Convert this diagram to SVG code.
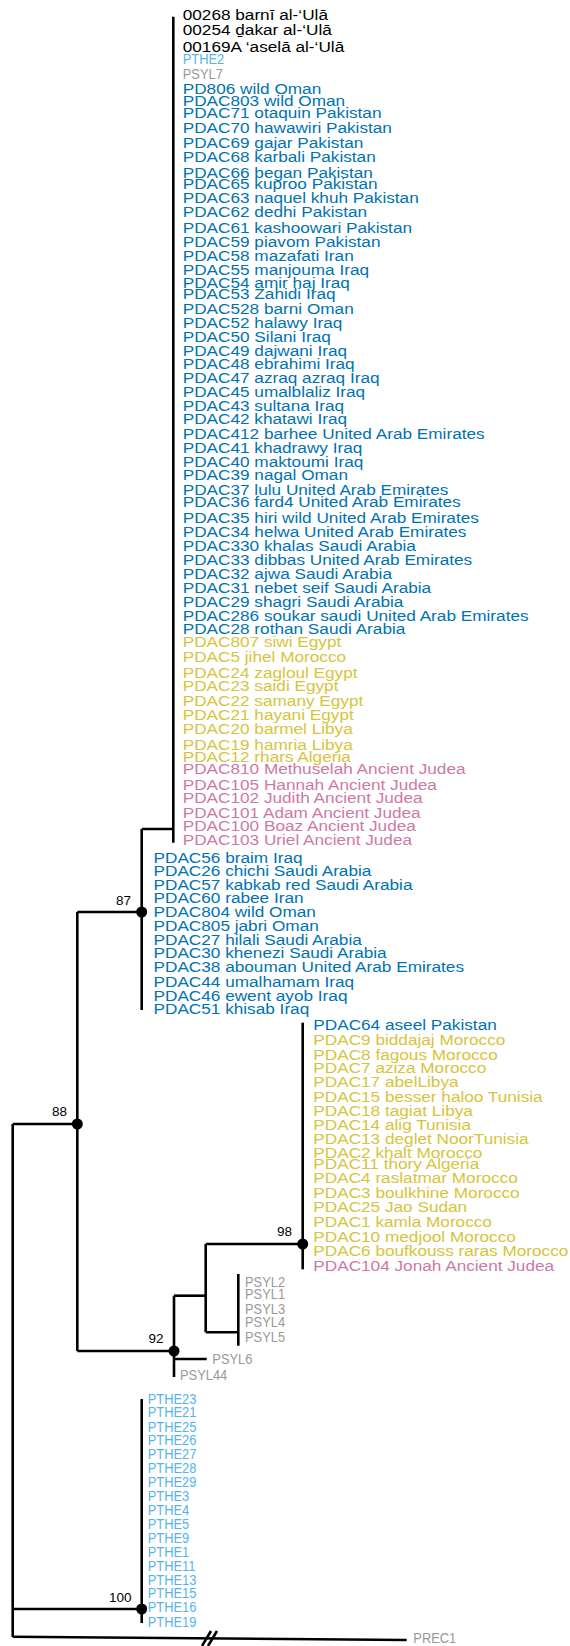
<svg xmlns="http://www.w3.org/2000/svg" width="570" height="1646" viewBox="0 0 570 1646">
<style>
text{font-family:"Liberation Sans",Arial,Helvetica,sans-serif}
.L text{font-size:15.5px}
.S text{font-size:15px}
.k{fill:#000}.b{fill:#0072b2}.y{fill:#d6c43c}.p{fill:#cc79a7}.g{fill:#999999}.c{fill:#56b4e9}
.nl{font-size:13.5px;fill:#000;text-anchor:end}
.edges path{fill:none;stroke:#000;stroke-width:2.6}
.dot{fill:#000}
</style>
<rect width="570" height="1646" fill="#fff"/>
<g class="edges" id="connectors">
<path d="M173.3,16.7V842.7"/>
<path d="M141.7,829H173.3"/>
<path d="M141.7,829V1010"/>
<path d="M77.3,912H141.7"/>
<path d="M77.3,912V1351"/>
<path d="M12.7,1124H77.3"/>
<path d="M12.7,1124V1637"/>
<path d="M77.3,1351H174"/>
<path d="M174,1295.7V1377"/>
<path d="M174,1359H206.7"/>
<path d="M174,1295.7H205.7"/>
<path d="M205.7,1244V1332.3"/>
<path d="M205.7,1244H302.7"/>
<path d="M205.7,1332.3H238.3"/>
<path d="M238.3,1274V1345.7"/>
<path d="M302.7,1022.7V1269.3"/>
<path d="M12.7,1609H141.7"/>
<path d="M141.7,1399V1623"/>
<path d="M12.7,1636.7L406.7,1640"/>
<path d="M202,1646L211,1631M208,1646L217,1631" stroke-width="2"/>
</g>
<g id="node-87"><circle class="dot" cx="141.7" cy="912" r="5.5"/><text class="nl" x="131" y="905">87</text></g>
<g id="node-88"><circle class="dot" cx="77.3" cy="1124" r="5.5"/><text class="nl" x="67" y="1116">88</text></g>
<g id="node-92"><circle class="dot" cx="174" cy="1351" r="5.5"/><text class="nl" x="163.5" y="1343">92</text></g>
<g id="node-98"><circle class="dot" cx="302.7" cy="1244" r="5.5"/><text class="nl" x="292" y="1236">98</text></g>
<g id="node-100"><circle class="dot" cx="141.7" cy="1609" r="5.5"/><text class="nl" x="131.5" y="1601.7">100</text></g>
<g class="L">
<g id="leaf-00268" transform="translate(182.7,20) scale(1.11,1)"><text class="k">00268 barnī al-‘Ulā</text></g>
<g id="leaf-00254" transform="translate(182.7,35) scale(1.11,1)"><text class="k">00254 ḏakar al-‘Ulā</text></g>
<g id="leaf-00169A" transform="translate(182.7,51.7) scale(1.11,1)"><text class="k">00169A ‘aselā al-‘Ulā</text></g>
<g id="leaf-PD806" transform="translate(182.7,94) scale(1.11,1)"><text class="b">PD806 wild Oman</text></g>
<g id="leaf-PDAC803" transform="translate(182.7,106) scale(1.11,1)"><text class="b">PDAC803 wild Oman</text></g>
<g id="leaf-PDAC71" transform="translate(182.7,118.3) scale(1.11,1)"><text class="b">PDAC71 otaquin Pakistan</text></g>
<g id="leaf-PDAC70" transform="translate(182.7,133.3) scale(1.11,1)"><text class="b">PDAC70 hawawiri Pakistan</text></g>
<g id="leaf-PDAC69" transform="translate(182.7,147.7) scale(1.11,1)"><text class="b">PDAC69 gajar Pakistan</text></g>
<g id="leaf-PDAC68" transform="translate(182.7,161.7) scale(1.11,1)"><text class="b">PDAC68 karbali Pakistan</text></g>
<g id="leaf-PDAC66" transform="translate(182.7,177.7) scale(1.11,1)"><text class="b">PDAC66 began Pakistan</text></g>
<g id="leaf-PDAC65" transform="translate(182.7,189) scale(1.11,1)"><text class="b">PDAC65 kuproo Pakistan</text></g>
<g id="leaf-PDAC63" transform="translate(182.7,202.7) scale(1.11,1)"><text class="b">PDAC63 naquel khuh Pakistan</text></g>
<g id="leaf-PDAC62" transform="translate(182.7,216.7) scale(1.11,1)"><text class="b">PDAC62 dedhi Pakistan</text></g>
<g id="leaf-PDAC61" transform="translate(182.7,232.7) scale(1.11,1)"><text class="b">PDAC61 kashoowari Pakistan</text></g>
<g id="leaf-PDAC59" transform="translate(182.7,246.7) scale(1.11,1)"><text class="b">PDAC59 piavom Pakistan</text></g>
<g id="leaf-PDAC58" transform="translate(182.7,260.7) scale(1.11,1)"><text class="b">PDAC58 mazafati Iran</text></g>
<g id="leaf-PDAC55" transform="translate(182.7,275) scale(1.11,1)"><text class="b">PDAC55 manjouma Iraq</text></g>
<g id="leaf-PDAC54" transform="translate(182.7,288.3) scale(1.11,1)"><text class="b">PDAC54 amir haj Iraq</text></g>
<g id="leaf-PDAC53" transform="translate(182.7,299.3) scale(1.11,1)"><text class="b">PDAC53 Zahidi Iraq</text></g>
<g id="leaf-PDAC528" transform="translate(182.7,314) scale(1.11,1)"><text class="b">PDAC528 barni Oman</text></g>
<g id="leaf-PDAC52" transform="translate(182.7,328.3) scale(1.11,1)"><text class="b">PDAC52 halawy Iraq</text></g>
<g id="leaf-PDAC50" transform="translate(182.7,341.7) scale(1.11,1)"><text class="b">PDAC50 Silani Iraq</text></g>
<g id="leaf-PDAC49" transform="translate(182.7,355.7) scale(1.11,1)"><text class="b">PDAC49 dajwani Iraq</text></g>
<g id="leaf-PDAC48" transform="translate(182.7,369.3) scale(1.11,1)"><text class="b">PDAC48 ebrahimi Iraq</text></g>
<g id="leaf-PDAC47" transform="translate(182.7,383.3) scale(1.11,1)"><text class="b">PDAC47 azraq azraq Iraq</text></g>
<g id="leaf-PDAC45" transform="translate(182.7,397.3) scale(1.11,1)"><text class="b">PDAC45 umalblaliz Iraq</text></g>
<g id="leaf-PDAC43" transform="translate(182.7,410.7) scale(1.11,1)"><text class="b">PDAC43 sultana Iraq</text></g>
<g id="leaf-PDAC42" transform="translate(182.7,424.3) scale(1.11,1)"><text class="b">PDAC42 khatawi Iraq</text></g>
<g id="leaf-PDAC412" transform="translate(182.7,439.3) scale(1.11,1)"><text class="b">PDAC412 barhee United Arab Emirates</text></g>
<g id="leaf-PDAC41" transform="translate(182.7,453.3) scale(1.11,1)"><text class="b">PDAC41 khadrawy Iraq</text></g>
<g id="leaf-PDAC40" transform="translate(182.7,466.7) scale(1.11,1)"><text class="b">PDAC40 maktoumi Iraq</text></g>
<g id="leaf-PDAC39" transform="translate(182.7,480) scale(1.11,1)"><text class="b">PDAC39 nagal Oman</text></g>
<g id="leaf-PDAC37" transform="translate(182.7,495) scale(1.11,1)"><text class="b">PDAC37 lulu United Arab Emirates</text></g>
<g id="leaf-PDAC36" transform="translate(182.7,507.3) scale(1.11,1)"><text class="b">PDAC36 fard4 United Arab Emirates</text></g>
<g id="leaf-PDAC35" transform="translate(182.7,522.7) scale(1.11,1)"><text class="b">PDAC35 hiri wild United Arab Emirates</text></g>
<g id="leaf-PDAC34" transform="translate(182.7,536.7) scale(1.11,1)"><text class="b">PDAC34 helwa United Arab Emirates</text></g>
<g id="leaf-PDAC330" transform="translate(182.7,550.7) scale(1.11,1)"><text class="b">PDAC330 khalas Saudi Arabia</text></g>
<g id="leaf-PDAC33" transform="translate(182.7,565) scale(1.11,1)"><text class="b">PDAC33 dibbas United Arab Emirates</text></g>
<g id="leaf-PDAC32" transform="translate(182.7,579) scale(1.11,1)"><text class="b">PDAC32 ajwa Saudi Arabia</text></g>
<g id="leaf-PDAC31" transform="translate(182.7,592.7) scale(1.11,1)"><text class="b">PDAC31 nebet seif Saudi Arabia</text></g>
<g id="leaf-PDAC29" transform="translate(182.7,606.7) scale(1.11,1)"><text class="b">PDAC29 shagri Saudi Arabia</text></g>
<g id="leaf-PDAC286" transform="translate(182.7,620.7) scale(1.11,1)"><text class="b">PDAC286 soukar saudi United Arab Emirates</text></g>
<g id="leaf-PDAC28" transform="translate(182.7,634) scale(1.11,1)"><text class="b">PDAC28 rothan Saudi Arabia</text></g>
<g id="leaf-PDAC807" transform="translate(182.7,646.7) scale(1.11,1)"><text class="y">PDAC807 siwi Egypt</text></g>
<g id="leaf-PDAC5" transform="translate(182.7,661.7) scale(1.11,1)"><text class="y">PDAC5 jihel Morocco</text></g>
<g id="leaf-PDAC24" transform="translate(182.7,678.3) scale(1.11,1)"><text class="y">PDAC24 zagloul Egypt</text></g>
<g id="leaf-PDAC23" transform="translate(182.7,691) scale(1.11,1)"><text class="y">PDAC23 saidi Egypt</text></g>
<g id="leaf-PDAC22" transform="translate(182.7,705.7) scale(1.11,1)"><text class="y">PDAC22 samany Egypt</text></g>
<g id="leaf-PDAC21" transform="translate(182.7,720) scale(1.11,1)"><text class="y">PDAC21 hayani Egypt</text></g>
<g id="leaf-PDAC20" transform="translate(182.7,734) scale(1.11,1)"><text class="y">PDAC20 barmel Libya</text></g>
<g id="leaf-PDAC19" transform="translate(182.7,750) scale(1.11,1)"><text class="y">PDAC19 hamria Libya</text></g>
<g id="leaf-PDAC12" transform="translate(182.7,761.7) scale(1.11,1)"><text class="y">PDAC12 rhars Algeria</text></g>
<g id="leaf-PDAC810" transform="translate(182.7,774) scale(1.11,1)"><text class="p">PDAC810 Methuselah Ancient Judea</text></g>
<g id="leaf-PDAC105" transform="translate(182.7,790) scale(1.11,1)"><text class="p">PDAC105 Hannah Ancient Judea</text></g>
<g id="leaf-PDAC102" transform="translate(182.7,803.3) scale(1.11,1)"><text class="p">PDAC102 Judith Ancient Judea</text></g>
<g id="leaf-PDAC101" transform="translate(182.7,817.7) scale(1.11,1)"><text class="p">PDAC101 Adam Ancient Judea</text></g>
<g id="leaf-PDAC100" transform="translate(182.7,830.7) scale(1.11,1)"><text class="p">PDAC100 Boaz Ancient Judea</text></g>
<g id="leaf-PDAC103" transform="translate(182.7,845) scale(1.11,1)"><text class="p">PDAC103 Uriel Ancient Judea</text></g>
<g id="leaf-PDAC56" transform="translate(153.5,863.3) scale(1.11,1)"><text class="b">PDAC56 braim Iraq</text></g>
<g id="leaf-PDAC26" transform="translate(153.5,876) scale(1.11,1)"><text class="b">PDAC26 chichi Saudi Arabia</text></g>
<g id="leaf-PDAC57" transform="translate(153.5,890) scale(1.11,1)"><text class="b">PDAC57 kabkab red Saudi Arabia</text></g>
<g id="leaf-PDAC60" transform="translate(153.5,903.3) scale(1.11,1)"><text class="b">PDAC60 rabee Iran</text></g>
<g id="leaf-PDAC804" transform="translate(153.5,916.7) scale(1.11,1)"><text class="b">PDAC804 wild Oman</text></g>
<g id="leaf-PDAC805" transform="translate(153.5,930.7) scale(1.11,1)"><text class="b">PDAC805 jabri Oman</text></g>
<g id="leaf-PDAC27" transform="translate(153.5,945) scale(1.11,1)"><text class="b">PDAC27 hilali Saudi Arabia</text></g>
<g id="leaf-PDAC30" transform="translate(153.5,958.3) scale(1.11,1)"><text class="b">PDAC30 khenezi Saudi Arabia</text></g>
<g id="leaf-PDAC38" transform="translate(153.5,972.3) scale(1.11,1)"><text class="b">PDAC38 abouman United Arab Emirates</text></g>
<g id="leaf-PDAC44" transform="translate(153.5,986.7) scale(1.11,1)"><text class="b">PDAC44 umalhamam Iraq</text></g>
<g id="leaf-PDAC46" transform="translate(153.5,1000.7) scale(1.11,1)"><text class="b">PDAC46 ewent ayob Iraq</text></g>
<g id="leaf-PDAC51" transform="translate(153.5,1014) scale(1.11,1)"><text class="b">PDAC51 khisab Iraq</text></g>
<g id="leaf-PDAC64" transform="translate(313.3,1030) scale(1.11,1)"><text class="b">PDAC64 aseel Pakistan</text></g>
<g id="leaf-PDAC9" transform="translate(313.3,1045) scale(1.11,1)"><text class="y">PDAC9 biddajaj Morocco</text></g>
<g id="leaf-PDAC8" transform="translate(313.3,1060) scale(1.11,1)"><text class="y">PDAC8 fagous Morocco</text></g>
<g id="leaf-PDAC7" transform="translate(313.3,1073.3) scale(1.11,1)"><text class="y">PDAC7 aziza Morocco</text></g>
<g id="leaf-PDAC17" transform="translate(313.3,1087.3) scale(1.11,1)"><text class="y">PDAC17 abelLibya</text></g>
<g id="leaf-PDAC15" transform="translate(313.3,1101.7) scale(1.11,1)"><text class="y">PDAC15 besser haloo Tunisia</text></g>
<g id="leaf-PDAC18" transform="translate(313.3,1115.7) scale(1.11,1)"><text class="y">PDAC18 tagiat Libya</text></g>
<g id="leaf-PDAC14" transform="translate(313.3,1130) scale(1.11,1)"><text class="y">PDAC14 alig Tunisia</text></g>
<g id="leaf-PDAC13" transform="translate(313.3,1144) scale(1.11,1)"><text class="y">PDAC13 deglet NoorTunisia</text></g>
<g id="leaf-PDAC2" transform="translate(313.3,1158.3) scale(1.11,1)"><text class="y">PDAC2 khalt Morocco</text></g>
<g id="leaf-PDAC11" transform="translate(313.3,1169) scale(1.11,1)"><text class="y">PDAC11 thory Algeria</text></g>
<g id="leaf-PDAC4" transform="translate(313.3,1183.3) scale(1.11,1)"><text class="y">PDAC4 raslatmar Morocco</text></g>
<g id="leaf-PDAC3" transform="translate(313.3,1198.3) scale(1.11,1)"><text class="y">PDAC3 boulkhine Morocco</text></g>
<g id="leaf-PDAC25" transform="translate(313.3,1212.3) scale(1.11,1)"><text class="y">PDAC25 Jao Sudan</text></g>
<g id="leaf-PDAC1" transform="translate(313.3,1226.7) scale(1.11,1)"><text class="y">PDAC1 kamla Morocco</text></g>
<g id="leaf-PDAC10" transform="translate(313.3,1241.7) scale(1.11,1)"><text class="y">PDAC10 medjool Morocco</text></g>
<g id="leaf-PDAC6" transform="translate(313.3,1255.7) scale(1.11,1)"><text class="y">PDAC6 boufkouss raras Morocco</text></g>
<g id="leaf-PDAC104" transform="translate(313.3,1270.7) scale(1.11,1)"><text class="p">PDAC104 Jonah Ancient Judea</text></g>
</g>
<g class="S">
<g id="leaf-PTHE2" transform="translate(182.7,64.3) scale(0.86,1)"><text class="c">PTHE2</text></g>
<g id="leaf-PSYL7" transform="translate(182.7,79) scale(0.86,1)"><text class="g">PSYL7</text></g>
<g id="leaf-PSYL2" transform="translate(245,1286.7) scale(0.86,1)"><text class="g">PSYL2</text></g>
<g id="leaf-PSYL1" transform="translate(245,1299.3) scale(0.86,1)"><text class="g">PSYL1</text></g>
<g id="leaf-PSYL3" transform="translate(245,1314) scale(0.86,1)"><text class="g">PSYL3</text></g>
<g id="leaf-PSYL4" transform="translate(245,1326.7) scale(0.86,1)"><text class="g">PSYL4</text></g>
<g id="leaf-PSYL5" transform="translate(245,1341.7) scale(0.86,1)"><text class="g">PSYL5</text></g>
<g id="leaf-PSYL6" transform="translate(212.3,1364) scale(0.86,1)"><text class="g">PSYL6</text></g>
<g id="leaf-PSYL44" transform="translate(180,1380) scale(0.86,1)"><text class="g">PSYL44</text></g>
<g id="leaf-PTHE23" transform="translate(147.7,1404) scale(0.86,1)"><text class="c">PTHE23</text></g>
<g id="leaf-PTHE21" transform="translate(147.7,1417.3) scale(0.86,1)"><text class="c">PTHE21</text></g>
<g id="leaf-PTHE25" transform="translate(147.7,1431.7) scale(0.86,1)"><text class="c">PTHE25</text></g>
<g id="leaf-PTHE26" transform="translate(147.7,1445) scale(0.86,1)"><text class="c">PTHE26</text></g>
<g id="leaf-PTHE27" transform="translate(147.7,1459.3) scale(0.86,1)"><text class="c">PTHE27</text></g>
<g id="leaf-PTHE28" transform="translate(147.7,1473.3) scale(0.86,1)"><text class="c">PTHE28</text></g>
<g id="leaf-PTHE29" transform="translate(147.7,1487.3) scale(0.86,1)"><text class="c">PTHE29</text></g>
<g id="leaf-PTHE3" transform="translate(147.7,1500.7) scale(0.86,1)"><text class="c">PTHE3</text></g>
<g id="leaf-PTHE4" transform="translate(147.7,1515) scale(0.86,1)"><text class="c">PTHE4</text></g>
<g id="leaf-PTHE5" transform="translate(147.7,1529) scale(0.86,1)"><text class="c">PTHE5</text></g>
<g id="leaf-PTHE9" transform="translate(147.7,1543) scale(0.86,1)"><text class="c">PTHE9</text></g>
<g id="leaf-PTHE1" transform="translate(147.7,1557) scale(0.86,1)"><text class="c">PTHE1</text></g>
<g id="leaf-PTHE11" transform="translate(147.7,1571) scale(0.86,1)"><text class="c">PTHE11</text></g>
<g id="leaf-PTHE13" transform="translate(147.7,1584.7) scale(0.86,1)"><text class="c">PTHE13</text></g>
<g id="leaf-PTHE15" transform="translate(147.7,1598.3) scale(0.86,1)"><text class="c">PTHE15</text></g>
<g id="leaf-PTHE16" transform="translate(147.7,1612) scale(0.86,1)"><text class="c">PTHE16</text></g>
<g id="leaf-PTHE19" transform="translate(147.7,1626.7) scale(0.86,1)"><text class="c">PTHE19</text></g>
<g id="leaf-PREC1" transform="translate(413.3,1643.3) scale(0.86,1)"><text class="g">PREC1</text></g>
</g>
</svg>
